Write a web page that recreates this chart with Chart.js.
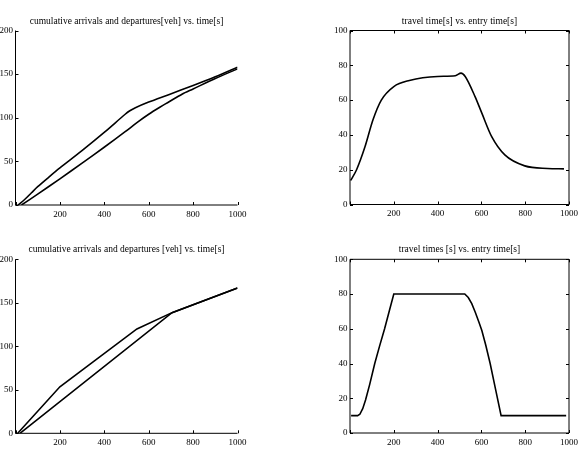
<!DOCTYPE html>
<html>
<head>
<meta charset="utf-8">
<script src="https://cdn.jsdelivr.net/npm/chart.js@4/dist/chart.umd.min.js"></script>
<style>
    body { margin: 0; background: #fff; }
    .panel { position: absolute; }
</style>
</head>
<body>
<canvas id="cumTop" class="panel" width="291" height="230" style="left:0;top:0"></canvas>
<canvas id="travelTop" class="panel" width="291" height="230" style="left:291px;top:0"></canvas>
<canvas id="cumBottom" class="panel" width="291" height="230" style="left:0;top:230px"></canvas>
<canvas id="travelBottom" class="panel" width="291" height="230" style="left:291px;top:230px"></canvas>
<script>
// top left: smooth cumulative curves
const arrTimeA = [12, 40, 72, 100, 148, 200, 298, 401, 494, 515, 540, 600, 690, 800, 900, 1000];
const arrivalsA = [0, 6, 14, 21, 31.5, 42.5, 62, 83.5, 104, 108, 111.5, 118, 126.5, 137, 147, 158];
const depTimeA = [27, 100, 200, 300, 401, 494, 550, 600, 650, 690, 750, 800, 900, 1000];
const departuresA = [0, 12.5, 30, 48, 66.5, 84, 95, 104, 112, 118, 127, 133, 145, 156];

// top right: travel time
const entryTimeA = [3, 30, 68, 105, 143, 200, 271, 400, 481, 507, 526, 571, 602, 647, 707, 798, 902, 977];
const travelTimeA = [13.8, 20, 33, 48.7, 60, 67.8, 71.3, 73.6, 74, 75.5, 73.6, 62, 52.5, 39, 28.5, 22.2, 20.7, 20.5];

// bottom left: piecewise linear cumulative curves
const arrTimeB = [10, 200, 547, 705, 1000];
const arrivalsB = [0, 53.5, 120, 138.7, 167];
const depTimeB = [20, 705, 1000];
const departuresB = [0, 138.7, 167];

// bottom right: travel times
const entryTimeB = [5, 35, 45, 58, 71, 90, 113, 135, 158, 180, 200, 524, 540, 556, 572, 588, 602, 620, 640, 665, 690, 987];
const travelTimeB = [10, 10, 10.8, 14, 19, 28, 40, 50, 60, 70.5, 80, 80, 78, 74.5, 69.5, 64, 59, 50.5, 40, 25, 10, 10];

const xTicks = [200, 400, 600, 800, 1000];

Chart.defaults.font.family = "'Liberation Serif', 'Times New Roman', serif";
Chart.defaults.font.size = 9;
Chart.defaults.color = '#000';

// matlab style axes: inward ticks, optional full box
const axesFrame = {
    id: 'axesFrame',
    afterDatasetsDraw(chart, args, opts) {
        const ctx = chart.ctx;
        const a = chart.chartArea;
        const x = chart.scales.x;
        const y = chart.scales.y;
        ctx.save();
        ctx.strokeStyle = '#000';
        ctx.lineWidth = 1;
        ctx.beginPath();
        ctx.moveTo(a.left, a.top);
        ctx.lineTo(a.left, a.bottom);
        ctx.lineTo(a.right, a.bottom);
        if (opts.box) {
            ctx.lineTo(a.right, a.top);
            ctx.lineTo(a.left, a.top);
        }
        x.ticks.forEach(t => {
            const px = Math.round(x.getPixelForValue(t.value)) + 0.5;
            ctx.moveTo(px, a.bottom);
            ctx.lineTo(px, a.bottom - 3);
            if (opts.box) {
                ctx.moveTo(px, a.top);
                ctx.lineTo(px, a.top + 3);
            }
        });
        y.ticks.forEach(t => {
            const py = Math.round(y.getPixelForValue(t.value)) + 0.5;
            ctx.moveTo(a.left, py);
            ctx.lineTo(a.left + 3, py);
            if (opts.box) {
                ctx.moveTo(a.right, py);
                ctx.lineTo(a.right - 3, py);
            }
        });
        ctx.stroke();
        ctx.restore();
    }
};

function toPoints(xs, ys) {
    return xs.map((v, i) => ({ x: v, y: ys[i] }));
}

function lineSet(xs, ys, tension, mode) {
    return {
        data: toPoints(xs, ys),
        borderColor: '#000',
        borderWidth: 1.6,
        pointRadius: 0,
        fill: false,
        tension: tension,
        cubicInterpolationMode: mode || 'default'
    };
}

function makePanel(id, opts) {
    new Chart(document.getElementById(id), {
        type: 'line',
        data: { datasets: opts.datasets },
        options: {
            responsive: false,
            animation: false,
            devicePixelRatio: 1,
            layout: { padding: opts.padding },
            plugins: {
                legend: { display: false },
                tooltip: { enabled: false },
                title: {
                    display: true,
                    text: opts.title,
                    fullSize: false,
                    color: '#000',
                    font: { size: 9.5, weight: 'normal' },
                    padding: { top: opts.titleTop, bottom: opts.titleBottom }
                },
                axesFrame: { box: opts.box }
            },
            scales: {
                x: {
                    type: 'linear',
                    min: 0,
                    max: 1000,
                    grid: { display: false, drawTicks: false },
                    border: { display: false },
                    ticks: {
                        stepSize: 200,
                        autoSkip: false,
                        maxRotation: 0,
                        padding: 4,
                        callback: v => xTicks.includes(v) ? v : ''
                    },
                    afterFit: s => { s.height = opts.xHeight; }
                },
                y: {
                    min: 0,
                    max: opts.yMax,
                    grid: { display: false, drawTicks: false },
                    border: { display: false },
                    ticks: { stepSize: opts.yStep, padding: 2.5 },
                    afterFit: s => { s.width = opts.yWidth; }
                }
            }
        },
        plugins: [axesFrame]
    });
}

makePanel('cumTop', {
    title: 'cumulative arrivals and departures[veh] vs. time[s]',
    datasets: [lineSet(arrTimeA, arrivalsA, 0.3), lineSet(depTimeA, departuresA, 0.3)],
    padding: { left: 0, right: 53.5, top: 0, bottom: 0 },
    titleTop: 15.8, titleBottom: 3.3,
    xHeight: 25, yWidth: 15.5, yMax: 200, yStep: 50, box: false
});

makePanel('travelTop', {
    title: 'travel time[s] vs. entry time[s]',
    datasets: [lineSet(entryTimeA, travelTimeA, 0.4, 'monotone')],
    padding: { left: 39, right: 11, top: 0, bottom: 0 },
    titleTop: 15.8, titleBottom: 3.3,
    xHeight: 25.5, yWidth: 20, yMax: 100, yStep: 20, box: true
});

makePanel('cumBottom', {
    title: 'cumulative arrivals and departures [veh] vs. time[s]',
    datasets: [lineSet(arrTimeB, arrivalsB, 0), lineSet(depTimeB, departuresB, 0)],
    padding: { left: 0, right: 53.5, top: 0, bottom: 0 },
    titleTop: 13.8, titleBottom: 4.1,
    xHeight: 26.7, yWidth: 15.5, yMax: 200, yStep: 50, box: false
});

makePanel('travelBottom', {
    title: 'travel times [s] vs. entry time[s]',
    datasets: [lineSet(entryTimeB, travelTimeB, 0)],
    padding: { left: 39, right: 11, top: 0, bottom: 0 },
    titleTop: 13.8, titleBottom: 4.1,
    xHeight: 27, yWidth: 20, yMax: 100, yStep: 20, box: true
});
</script>
</body>
</html>
